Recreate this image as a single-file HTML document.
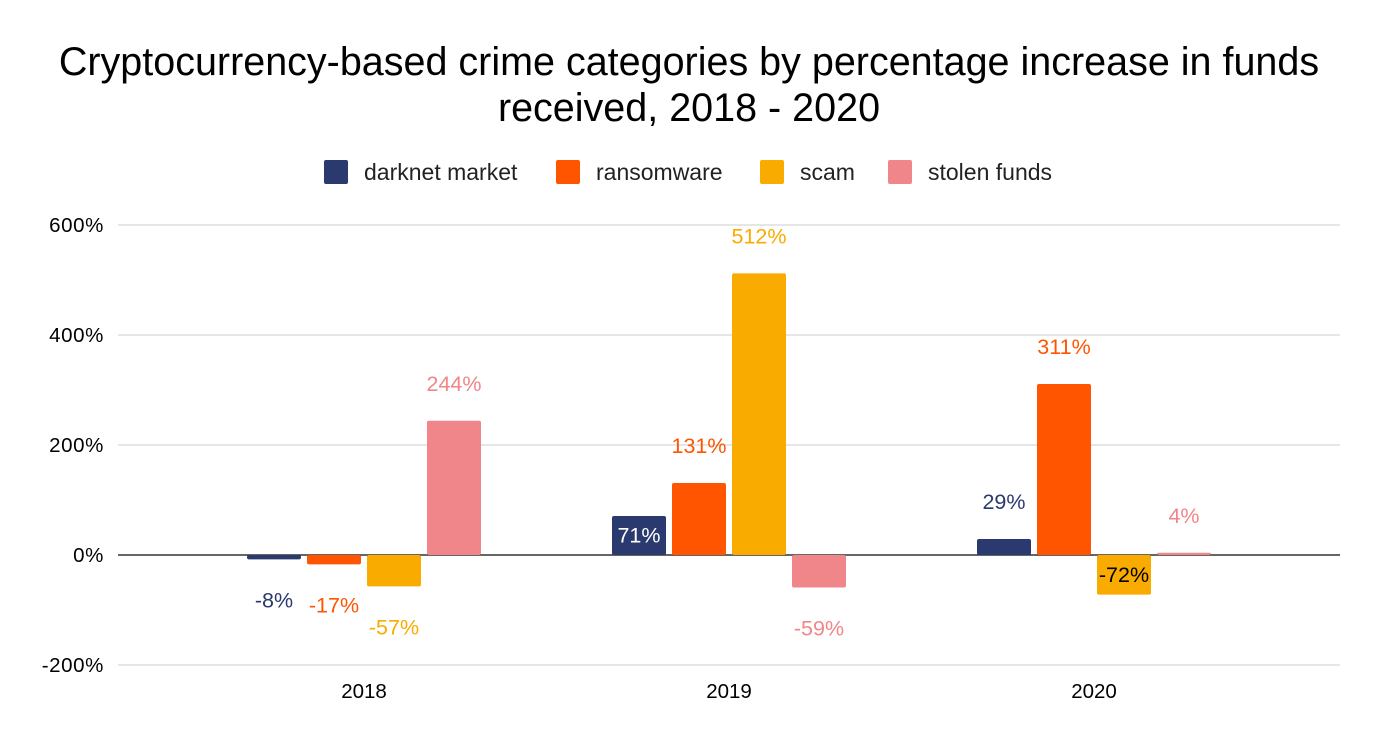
<!DOCTYPE html>
<html><head><meta charset="utf-8"><style>
body{margin:0;background:#fff;font-family:"Liberation Sans",Arial,sans-serif;}
svg text{font-family:"Liberation Sans",Arial,sans-serif;}
</style></head><body>
<svg id="c" width="1378" height="742" xmlns="http://www.w3.org/2000/svg">
<rect width="1378" height="742" fill="#fff"/>
<text x="689" y="75" text-anchor="middle" font-size="39.5" fill="#000">Cryptocurrency-based crime categories by percentage increase in funds</text>
<text x="689" y="121" text-anchor="middle" font-size="39.5" fill="#000">received, 2018 - 2020</text>
<g id="legend"></g>
<g id="grid"></g>
<g id="bars"></g>
<g id="labels"></g>
</svg>
<script>
const categories = ["2018","2019","2020"];
const seriesNames = ["darknet market","ransomware","scam","stolen funds"];
const darknet = [-8, 71, 29];
const ransomware = [-17, 131, 311];
const scam = [-57, 512, -72];
const stolen = [244, -59, 4];
const yTicks = [-200, 0, 200, 400, 600];
const yTickLabels = ["-200%","0%","200%","400%","600%"];
const colors = ["#2a3a6e","#ff5500","#f9ab00","#f0868a"];
const series = [darknet, ransomware, scam, stolen];

const NS = "http://www.w3.org/2000/svg";
const y = v => 555 - v * 0.55;
const xCenter = i => 364 + i * 365;
const barW = 54, step = 60;
function mk(tag, attrs, parent){const e=document.createElementNS(NS,tag);for(const k in attrs)e.setAttribute(k,attrs[k]);parent.appendChild(e);return e;}

const grid = document.getElementById('grid');
yTicks.forEach((t,i)=>{
  const ln = mk('line',{x1:118,x2:1340,y1:y(t),y2:y(t),stroke:t===0?'#333':'#ccc','stroke-width':t===0?1.5:1},grid);
  
  
  const tx = mk('text',{x:104,y:y(t)+7,'text-anchor':'end','font-size':20.5,'letter-spacing':0.6,fill:'#000'},grid);
  tx.textContent = yTickLabels[i];
  
  
});
categories.forEach((c,i)=>{
  const tx = mk('text',{x:xCenter(i),y:698,'text-anchor':'middle','font-size':20.5,fill:'#000'},grid);
  tx.textContent = c;
  
  
});

const bars = document.getElementById('bars'), labels = document.getElementById('labels');
series.forEach((vals,s)=>{
  vals.forEach((v,i)=>{
    const x0 = xCenter(i) - 2*step + 3 + s*step;
    const top = Math.min(y(v), y(0)), h = Math.abs(y(v)-y(0));
    const r = mk('rect',{x:x0,y:top,width:barW,height:Math.max(h,1),fill:colors[s],rx:2},bars);
    
    
    let ly, fill = colors[s];
    if (h > 30 && ((v > 0 && h < 45) || (v < 0 && h > 38))) {
      ly = (top + top + h)/2 + 7; fill = v > 0 ? '#fff' : '#000';
    } else if (v >= 0) ly = y(v) - 37 + 7;
    else ly = y(v) + 41 + 7;
    const t = mk('text',{x:x0+barW/2,y:ly,'text-anchor':'middle','font-size':21.5,fill:fill},labels);
    t.textContent = v + '%';
    
    
  });
});

const legend = document.getElementById('legend');
const lx = [324, 556, 760, 888];
seriesNames.forEach((n,i)=>{
  const r = mk('rect',{x:lx[i],y:160,width:24,height:24,fill:colors[i],rx:2},legend);
  
  
  const t = mk('text',{x:lx[i]+40,y:180,'font-size':23,fill:'#222'},legend);
  t.textContent = n;
  
  
});
</script>
</body></html>
